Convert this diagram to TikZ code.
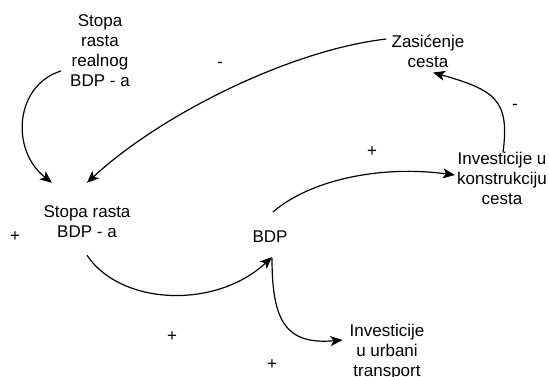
\documentclass[tikz,border=0pt]{standalone}
\usepackage{fontspec}
\setmainfont{Liberation Sans}
\usetikzlibrary{arrows.meta, calc, positioning}
\newcommand{\lblfont}{\fontsize{17}{20}\selectfont}
\tikzset{
    var/.style={align=center, inner sep=0pt, font=\lblfont},
    sgn/.style={inner sep=0pt, font=\lblfont},
    link/.style={line width=1.2pt, -{Stealth[length=12pt, width=10pt, inset=3pt]}}
}

\begin{document}
\begin{tikzpicture}[x=1pt, y=-1pt]
    \useasboundingbox (0,0) rectangle (549,377);
    % variables
    \node[var] (v1) at (100,51) {Stopa\\rasta\\realnog\\BDP - a};
    \node[var] (v2) at (428,51) {Zasićenje\\cesta};
    \node[var] (v3) at (87,222) {Stopa rasta\\BDP - a};
    \node[var] (v4) at (270,237) {BDP};
    \node[var] (v5) at (502,178) {Investicije u\\konstrukciju\\cesta};
    \node[var] (v6) at (387,352) {Investicije\\u urbani\\transport};
    % polarities
    \node[sgn] (s1) at (220,65) {-};
    \node[sgn] (s2) at (515,107) {-};
    \node[sgn] (s3) at (372,152) {+};
    \node[sgn] (s4) at (15,237) {+};
    \node[sgn] (s5) at (172,337) {+};
    \node[sgn] (s6) at (272,365) {+};
    % links
    \draw[link] ([shift={(-9,20)}]v1.west) .. controls (15,85) and (10,150) .. ([shift={(-35,-23)}]v3.north);
    \draw[link] ([shift={(-5,-12)}]v2.west) .. controls (290,50) and (160,115) .. ([shift={(0,-23)}]v3.north);
    \draw[link] ([shift={(0,17)}]v3.south) .. controls (120,305) and (215,310) .. ([shift={(2,14)}]v4.south);
    \draw[link] ([shift={(3,-19)}]v4.north) .. controls (310,180) and (380,165) .. ([shift={(-2,-3)}]v5.west);
    \draw[link] ([shift={(1,1)}]v5.north) .. controls (510,100) and (495,90) .. ([shift={(5,5)}]v2.south);
    \draw[link] ([shift={(2,15)}]v4.south) .. controls (272,320) and (285,345) .. ([shift={(-7,-12)}]v6.west);
\end{tikzpicture}
\end{document}
